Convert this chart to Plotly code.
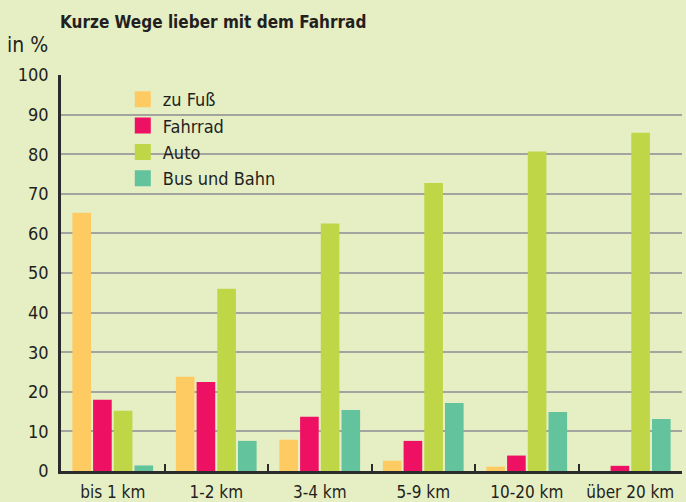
import plotly.graph_objects as go

categories = ["bis 1 km", "1-2 km", "3-4 km", "5-9 km", "10-20 km", "über 20 km"]
series_names = ["zu Fuß", "Fahrrad", "Auto", "Bus und Bahn"]
zu_fuss = [65.2, 23.8, 7.9, 2.6, 1.1, 0]
fahrrad = [18.0, 22.5, 13.7, 7.6, 3.9, 1.3]
auto = [15.2, 46.0, 62.5, 72.7, 80.7, 85.4]
bus_bahn = [1.4, 7.6, 15.4, 17.2, 14.9, 13.1]
y_ticks = [0, 10, 20, 30, 40, 50, 60, 70, 80, 90, 100]

colors = ["#FECB63", "#EE1163", "#BFD647", "#62C39D"]
values = [zu_fuss, fahrrad, auto, bus_bahn]
BG = "#E6EEC4"
FONT = "Liberation Sans Narrow, DejaVu Sans Condensed, Arial Narrow, sans-serif"
TXT = "#231F20"

fig = go.Figure()
for name, vals, col in zip(series_names, values, colors):
    fig.add_trace(go.Bar(x=categories, y=vals, name=name, marker=dict(color=col, line=dict(width=0)),
                         legendgroup=name, showlegend=False))
for name, col in zip(series_names, colors):
    fig.add_trace(go.Scatter(x=[None], y=[None], mode="markers", name=name, legendgroup=name,
                             marker=dict(symbol="square", size=16, color=col, line=dict(width=0))))

fig.update_layout(
    width=686, height=502,
    margin=dict(l=61, r=4, t=75, b=31),
    paper_bgcolor=BG, plot_bgcolor=BG,
    barmode="group", bargap=0.2, bargroupgap=0.1,
    font=dict(family=FONT, color=TXT, size=17),
    showlegend=True,
    legend=dict(x=0.0995, xanchor="left", y=0.985, yanchor="top", bgcolor="rgba(0,0,0,0)",
                font=dict(family=FONT, size=18, color=TXT), tracegroupgap=0, borderwidth=0),
    xaxis=dict(type="category", showline=True, linecolor="#2B2B2B", linewidth=2.5,
               ticks="inside", tickson="boundaries", ticklen=7, tickwidth=2, tickcolor="#2B2B2B",
               showgrid=False, tickangle=0, automargin=False, ticklabelstandoff=4,
               tickfont=dict(family=FONT, size=17, color=TXT), fixedrange=True),
    yaxis=dict(range=[0, 100], tickvals=y_ticks, showline=True, linecolor="#2B2B2B", linewidth=2.5,
               showgrid=True, gridcolor="#A3A3A0", gridwidth=2, zeroline=False, ticks="",
               automargin=False, ticklabelstandoff=6,
               tickfont=dict(family=FONT, size=18, color=TXT), fixedrange=True),
    shapes=[dict(type="rect", xref="paper", yref="paper", x0=0.098, x1=0.275, y0=0.72, y1=0.987,
                 fillcolor=BG, line=dict(width=0), layer="between")],
    annotations=[
        dict(text="<b>Kurze Wege lieber mit dem Fahrrad</b>", xref="paper", yref="paper",
             x=(58 - 61) / 621, y=(471 - 22) / 396, xanchor="left", yanchor="middle", showarrow=False,
             font=dict(family=FONT, size=17, color=TXT)),
        dict(text="in %", xref="paper", yref="paper", x=(5 - 61) / 621, y=(471 - 45) / 396,
             xanchor="left", yanchor="middle", showarrow=False, font=dict(family=FONT, size=21, color=TXT)),
    ],
)
fig.write_html("out.html")
